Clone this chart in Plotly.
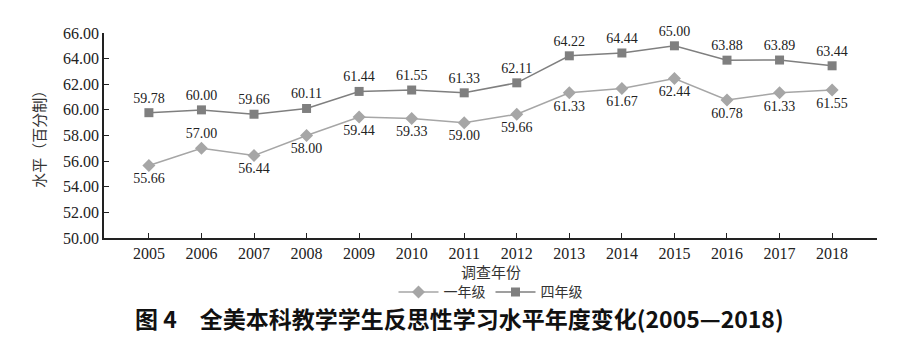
import plotly.graph_objects as go

years = ["2005", "2006", "2007", "2008", "2009", "2010", "2011", "2012",
         "2013", "2014", "2015", "2016", "2017", "2018"]
grade1 = [55.66, 57.00, 56.44, 58.00, 59.44, 59.33, 59.00, 59.66,
          61.33, 61.67, 62.44, 60.78, 61.33, 61.55]
grade4 = [59.78, 60.00, 59.66, 60.11, 61.44, 61.55, 61.33, 62.11,
          64.22, 64.44, 65.00, 63.88, 63.89, 63.44]
y_ticks = [50, 52, 54, 56, 58, 60, 62, 64, 66]

serif = "Liberation Serif, Times New Roman, serif"
cjk = "Noto Sans CJK SC, sans-serif"

pos1 = ["bottom center"] * len(years)
pos1[1] = "top center"
pos4 = ["top center"] * len(years)

fig = go.Figure()
fig.add_trace(go.Scatter(
    x=years, y=grade1, name="一年级", mode="lines+markers+text",
    line=dict(color="#a6a6a6", width=1.5),
    marker=dict(symbol="diamond", size=10, color="#a6a6a6"),
    text=[f"{v:.2f}" for v in grade1], textposition=pos1,
    textfont=dict(family=serif, size=14, color="#222"),
    cliponaxis=False,
))
fig.add_trace(go.Scatter(
    x=years, y=grade4, name="四年级", mode="lines+markers+text",
    line=dict(color="#7f7f7f", width=1.5),
    marker=dict(symbol="square", size=9, color="#7f7f7f"),
    text=[f"{v:.2f}" for v in grade4], textposition=pos4,
    textfont=dict(family=serif, size=14, color="#222"),
    cliponaxis=False,
))

fig.update_layout(
    width=915, height=340,
    margin=dict(l=104, r=38, t=33, b=102),
    paper_bgcolor="white", plot_bgcolor="white",
    showlegend=True,
    legend=dict(orientation="h", x=0.5, xanchor="center", y=-0.265, yanchor="middle",
                font=dict(family=cjk, size=14, color="#333"), itemwidth=40,
                tracegroupgap=0),
    xaxis=dict(type="category", showgrid=False, showline=True, linecolor="#222",
               linewidth=1.5, ticks="inside", ticklen=5, tickcolor="#222",
               tickfont=dict(family=serif, size=16, color="#222")),
    yaxis=dict(range=[50, 66], tickvals=y_ticks,
               ticktext=[f"{v:.2f}" for v in y_ticks],
               showgrid=False, showline=True, linecolor="#222", linewidth=1.5,
               ticks="inside", ticklen=5, tickcolor="#222",
               tickfont=dict(family=serif, size=16, color="#222")),
    annotations=[
        dict(text="调查年份", x=0.5, y=-0.165, xref="paper", yref="paper",
             xanchor="center", yanchor="middle",
             showarrow=False, font=dict(family=cjk, size=15, color="#333")),
        dict(text="水平（百分制）", x=-0.085, y=0.5, xref="paper", yref="paper",
             xanchor="center", yanchor="middle",
             textangle=-90, showarrow=False,
             font=dict(family=cjk, size=15, color="#333")),
        dict(text="<b>图 4　全美本科教学学生反思性学习水平年度变化(2005—2018)</b>",
             x=0.46, y=-0.39, xref="paper", yref="paper", showarrow=False,
             xanchor="center", yanchor="middle",
             font=dict(family=cjk, size=23, color="#111")),
    ],
)

fig.write_html("out.html")
